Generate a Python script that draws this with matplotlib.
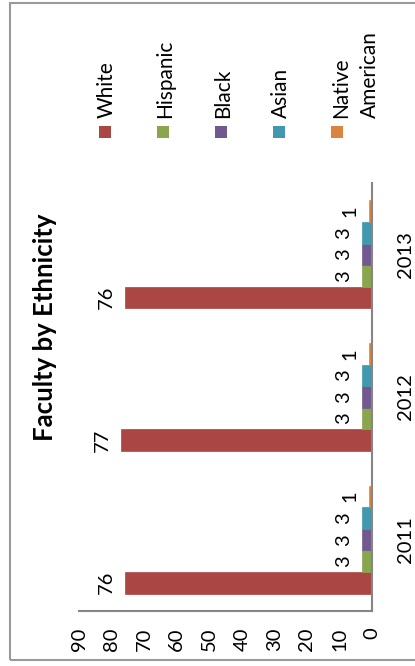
import matplotlib
matplotlib.use("Agg")
import matplotlib.pyplot as plt
from matplotlib.patches import Rectangle
import numpy as np

years = ["2011", "2012", "2013"]
groups = ["White", "Hispanic", "Black", "Asian", "Native\nAmerican"]
white = [76, 77, 76]
hispanic = [3, 3, 3]
black = [3, 3, 3]
asian = [3, 3, 3]
native = [1, 1, 1]
colors = ["#AA4643", "#89A54E", "#71588F", "#4198AF", "#DB843D"]
value_ticks = [0, 10, 20, 30, 40, 50, 60, 70, 80, 90]

plt.rcParams["font.family"] = ["Lato", "DejaVu Sans"]
W, H = 415, 666
fig = plt.figure(figsize=(W / 100, H / 100), dpi=100)


def fx(px):
    return px / W


def fy(py):
    return 1 - py / H


# chart is drawn turned a quarter turn: values run right-to-left
ax = fig.add_axes([fx(79), fy(611), fx(372) - fx(79), fy(183) - fy(611)])
series = [white, hispanic, black, asian, native]
bw = 0.151
pos = np.arange(len(years))
for i, (vals, col) in enumerate(zip(series, colors)):
    y = pos + (i - 2) * bw
    ax.barh(y, vals, height=bw, color=col, edgecolor=col, linewidth=0.5)
    for yy, v in zip(y, vals):
        ax.annotate(str(v), (v, yy), xytext=(-10, 0), textcoords="offset pixels",
                    rotation=90, ha="right", va="center", fontsize=14.5, color="black")

ax.set_xlim(90, 0)
ax.set_ylim(-0.5, 2.5)
ax.set_xticks(value_ticks)
ax.set_yticks(pos)
ax.set_yticklabels(years, rotation=90, va="center")
ax.yaxis.tick_right()
ax.tick_params(axis="x", length=0, pad=12, labelsize=14.5, labelrotation=90)
ax.tick_params(axis="y", length=0, pad=18, labelsize=14.5)
for s in ["top", "left"]:
    ax.spines[s].set_visible(False)
for s in ["bottom", "right"]:
    ax.spines[s].set_color("#868686")
    ax.spines[s].set_linewidth(1.5)

# title
fig.text(fx(45), fy(327), "Faculty by Ethnicity", rotation=90, ha="center", va="center",
         fontsize=18.5, fontweight="bold")

# legend
leg_x = [105, 163, 221, 279, 337]
for x, lab, col in zip(leg_x, groups, colors):
    fig.patches.append(Rectangle((fx(x - 6), fy(138)), fx(12), fy(126) - fy(138),
                                 transform=fig.transFigure, facecolor=col, edgecolor="none"))
    if "\n" in lab:
        fig.text(fx(x - 6), fy(118), lab, rotation=90, ha="left", va="bottom",
                 fontsize=15, linespacing=1.55)
    else:
        fig.text(fx(x + 2), fy(118), lab, rotation=90, ha="center", va="bottom", fontsize=15)

# outer frame
fig.patches.append(Rectangle((fx(10), fy(660)), fx(420) - fx(10), fy(3) - fy(660),
                             transform=fig.transFigure, facecolor="none",
                             edgecolor="#9a9a9a", linewidth=1.5))

fig.savefig("out.png", dpi=100)
